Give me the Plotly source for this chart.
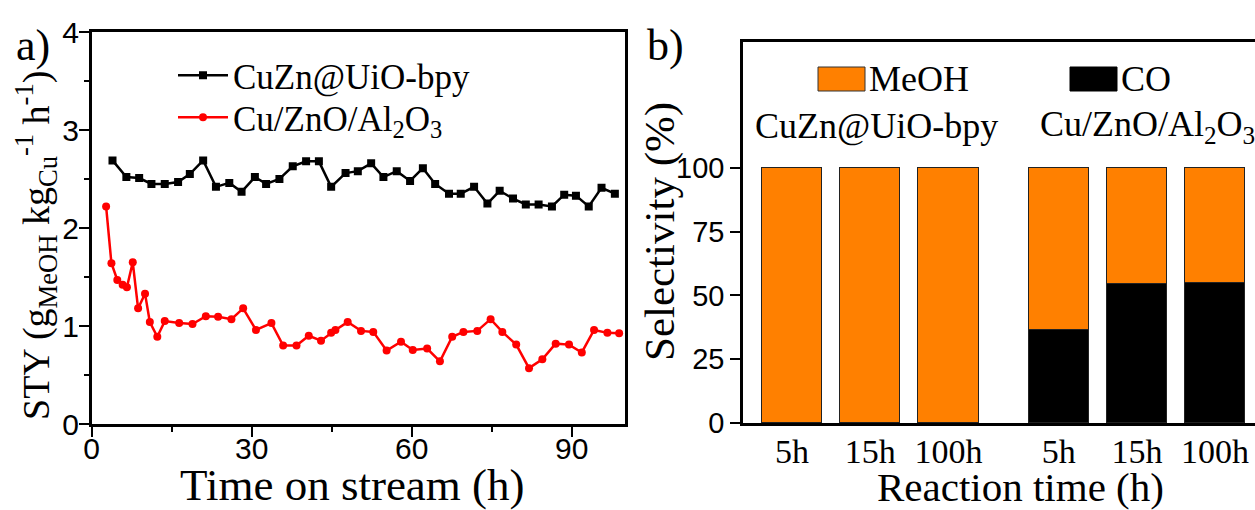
import plotly.graph_objects as go

# ---- panel a: space-time yield vs. time on stream ----
uio_time = [3.9, 6.5, 8.9, 11.2, 13.7, 16.2, 18.4, 20.9, 23.3, 25.8,
            28.1, 30.6, 32.7, 35.2, 37.7, 40.2, 42.6, 44.9, 47.6, 49.9,
            52.4, 54.7, 57.2, 59.7, 62.1, 64.4, 67.0, 69.2, 71.7, 74.2,
            76.5, 79.0, 81.4, 83.8, 86.3, 88.6, 90.8, 93.2, 95.6, 98.1]
uio_sty = [2.69, 2.52, 2.51, 2.45, 2.45, 2.47, 2.55, 2.69, 2.42, 2.46,
           2.37, 2.52, 2.45, 2.50, 2.63, 2.68, 2.68, 2.42, 2.56, 2.58,
           2.66, 2.52, 2.58, 2.48, 2.61, 2.45, 2.35, 2.35, 2.42, 2.25,
           2.38, 2.30, 2.24, 2.24, 2.22, 2.34, 2.33, 2.22, 2.41, 2.35]

cza_time = [2.7, 3.7, 4.8, 5.8, 6.6, 7.7, 8.7, 10.0, 10.9, 12.3,
            13.7, 16.4, 18.9, 21.4, 23.7, 26.2, 28.4, 30.8, 33.7, 35.9,
            38.4, 40.7, 43.0, 44.9, 45.7, 48.0, 50.5, 52.8, 55.3, 58.0,
            60.2, 62.9, 65.3, 67.6, 69.7, 72.3, 74.8, 77.0, 79.6, 82.0,
            84.5, 87.0, 89.5, 91.9, 94.2, 96.7, 98.9]
cza_sty = [2.22, 1.64, 1.47, 1.42, 1.395, 1.65, 1.18, 1.33, 1.04, 0.89,
           1.05, 1.03, 1.02, 1.10, 1.095, 1.07, 1.18, 0.96, 1.03, 0.80,
           0.80, 0.90, 0.85, 0.93, 0.96, 1.04, 0.95, 0.94, 0.75, 0.84,
           0.755, 0.77, 0.64, 0.89, 0.94, 0.95, 1.07, 0.94, 0.81, 0.57,
           0.66, 0.82, 0.81, 0.73, 0.96, 0.93, 0.925]

# ---- panel b: product selectivity ----
time_labels = ["5h", "15h", "100h", "5h", "15h", "100h"]
co_sel = [0, 0, 0, 36.5, 54.4, 55.0]
meoh_sel = [100 - v for v in co_sel]

# bar positions: two catalyst groups separated by a wider gap
group_gap = 0.41
bar_pos = [1, 2, 3, 4 + group_gap, 5 + group_gap, 6 + group_gap]

W, H = 1255, 510


def px(x):
    return x / W


def py(y):
    return 1 - y / H


SERIF = "Liberation Serif"
SANS = "Liberation Sans"

fig = go.Figure()

fig.add_trace(go.Scatter(
    x=uio_time, y=uio_sty, mode="lines+markers", name="CuZn@UiO-bpy",
    line=dict(color="black", width=2.5),
    marker=dict(symbol="square", size=8, color="black"),
    xaxis="x", yaxis="y", legend="legend"))
fig.add_trace(go.Scatter(
    x=cza_time, y=cza_sty, mode="lines+markers",
    name="Cu/ZnO/Al<sub>2</sub>O<sub>3</sub>",
    line=dict(color="#ff0000", width=2.5),
    marker=dict(symbol="circle", size=8, color="#ff0000"),
    xaxis="x", yaxis="y", legend="legend2"))

fig.add_trace(go.Bar(
    x=bar_pos, y=co_sel, name="CO", width=0.77,
    marker=dict(color="black", line=dict(color="#222222", width=1)),
    xaxis="x2", yaxis="y2", showlegend=False))
fig.add_trace(go.Bar(
    x=bar_pos, y=meoh_sel, name="MeOH", width=0.77,
    marker=dict(color="#ff8000", line=dict(color="#222222", width=1)),
    xaxis="x2", yaxis="y2", showlegend=False))

axis_common = dict(showline=True, linecolor="black", linewidth=2.5,
                   showgrid=False, zeroline=False, ticks="outside",
                   tickcolor="black", tickwidth=2, automargin=False)

legend_common = dict(xanchor="left", yanchor="top", bgcolor="rgba(0,0,0,0)",
                     borderwidth=0, itemwidth=50, traceorder="normal",
                     font=dict(family=SERIF, size=35, color="black"))

fig.update_layout(
    template="none",
    width=W, height=H,
    margin=dict(l=0, r=0, t=0, b=0, pad=0, autoexpand=False),
    paper_bgcolor="white", plot_bgcolor="white",
    barmode="stack", bargap=0,
    xaxis=dict(domain=[px(91.7), px(625)], range=[0, 100],
               tickvals=[0, 30, 60, 90], ticklen=10, mirror=True,
               minor=dict(ticks="outside", dtick=15, ticklen=5,
                          tickwidth=2, tickcolor="black"),
               tickfont=dict(family=SANS, size=30, color="black"),
               ticklabelstandoff=-14,
               anchor="y", **axis_common),
    yaxis=dict(domain=[py(424), py(32)], range=[0, 4],
               tickvals=[0, 1, 2, 3, 4], ticklen=10, mirror=True,
               minor=dict(ticks="outside", dtick=0.5, ticklen=5,
                          tickwidth=2, tickcolor="black"),
               tickfont=dict(family=SANS, size=30, color="black"),
               ticklabelstandoff=-6,
               anchor="x", **axis_common),
    xaxis2=dict(domain=[px(743), 1.0], range=[0.374, 6.92],
                tickvals=bar_pos, ticktext=time_labels, mirror=True,
                tickfont=dict(family=SERIF, size=34, color="black"),
                anchor="y2", showline=True, linecolor="black",
                linewidth=2.5, showgrid=False, zeroline=False, ticks="",
                ticklabelstandoff=-4, automargin=False),
    yaxis2=dict(domain=[py(423), py(42)], range=[0, 149.4],
                tickvals=[0, 25, 50, 75, 100], ticklen=10,
                tickfont=dict(family=SANS, size=29, color="black"),
                anchor="x2", **axis_common),
    legend=dict(x=px(173), y=py(46), **legend_common),
    legend2=dict(x=px(173), y=py(88), **legend_common),
)

# legend boxes for the selectivity panel
fig.add_shape(type="rect", xref="paper", yref="paper",
              x0=px(818), x1=px(865), y0=py(91), y1=py(67),
              fillcolor="#ff8000", line=dict(color="#333333", width=1))
fig.add_shape(type="rect", xref="paper", yref="paper",
              x0=px(1070), x1=px(1117), y0=py(91), y1=py(67),
              fillcolor="black", line=dict(color="black", width=1))

annotations = [
    # panel tags
    dict(text="a)", x=px(14), y=py(45), xanchor="left", yanchor="middle",
         font=dict(family=SERIF, size=44)),
    dict(text="b)", x=px(645), y=py(45), xanchor="left", yanchor="middle",
         font=dict(family=SERIF, size=44)),
    # axis titles
    dict(text="Time on stream (h)", x=px(352), y=py(485), xanchor="center",
         yanchor="middle", font=dict(family=SERIF, size=45)),
    dict(text="STY (g<sub>MeOH</sub> kg<sub>Cu</sub><sup>-1</sup> h<sup>-1</sup>)",
         x=px(36), y=py(246), xanchor="center", yanchor="middle",
         textangle=-90, font=dict(family=SERIF, size=38)),
    dict(text="Reaction time (h)", x=px(1020), y=py(487), xanchor="center",
         yanchor="middle", font=dict(family=SERIF, size=41)),
    dict(text="Selectivity (%)", x=px(660), y=py(232), xanchor="center",
         yanchor="middle", textangle=-90, font=dict(family=SERIF, size=43)),
    # selectivity legend texts and group names
    dict(text="MeOH", x=px(867), y=py(79), xanchor="left", yanchor="middle",
         font=dict(family=SERIF, size=36)),
    dict(text="CO", x=px(1119), y=py(79), xanchor="left", yanchor="middle",
         font=dict(family=SERIF, size=36)),
    dict(text="CuZn@UiO-bpy", x=px(876), y=py(126), xanchor="center",
         yanchor="middle", font=dict(family=SERIF, size=36)),
    dict(text="Cu/ZnO/Al<sub>2</sub>O<sub>3</sub>", x=px(1038), y=py(126),
         xanchor="left", yanchor="middle", font=dict(family=SERIF, size=36)),
]
for a in annotations:
    a.setdefault("xref", "paper")
    a.setdefault("yref", "paper")
    a.setdefault("showarrow", False)
    a["font"].setdefault("color", "black")
fig.update_layout(annotations=annotations)

fig.write_html("out.html")
